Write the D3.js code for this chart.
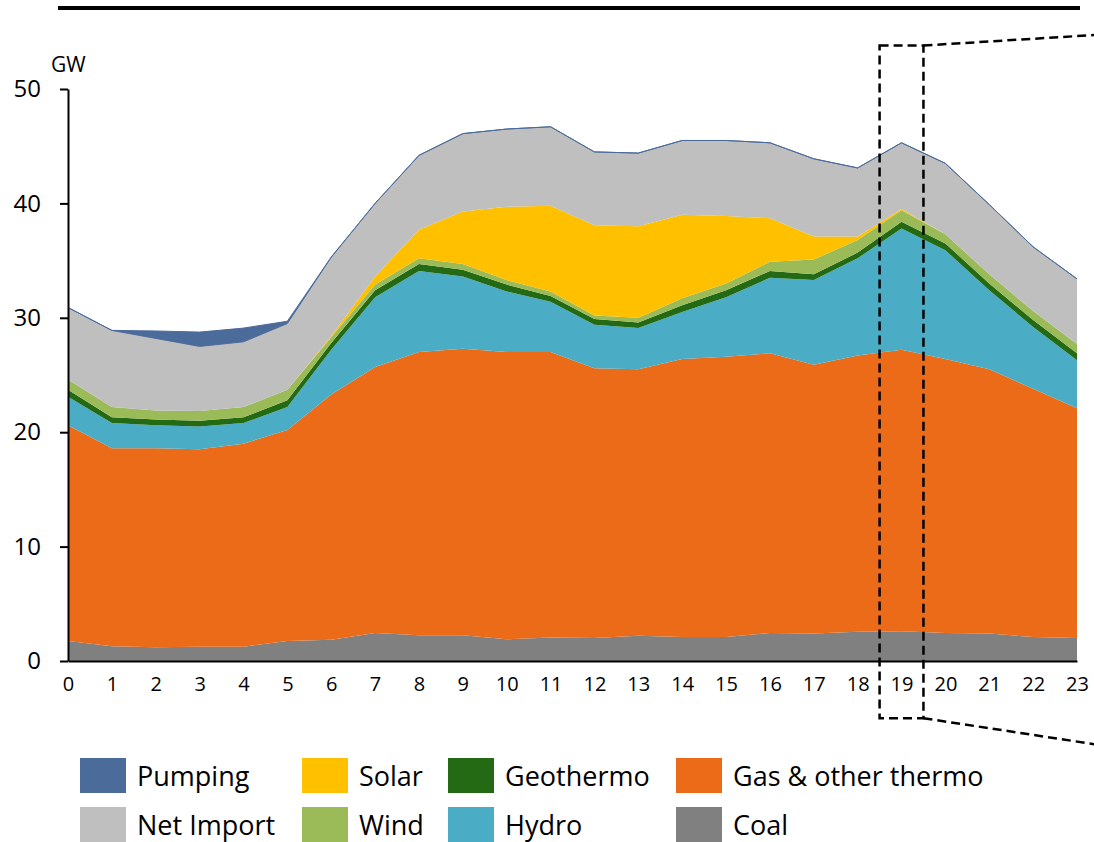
<!DOCTYPE html>
<html>
<head>
<meta charset="UTF-8">
<title>Hourly generation mix</title>
<script src="https://cdn.jsdelivr.net/npm/d3@7"></script>
<style>
  body { margin: 0; background: #fff; }
  svg { display: block; font-family: "Open Sans", sans-serif; }
</style>
</head>
<body>
<script>
// hours of the day
var hours = d3.range(0, 24);
var yTicks = [0, 10, 20, 30, 40, 50];

// series values (GW)
var coal      = [1.75,1.3,1.2,1.25,1.25,1.75,1.85,2.45,2.25,2.25,1.9,2.05,2.0,2.2,2.1,2.1,2.45,2.4,2.55,2.6,2.45,2.4,2.1,2.0];
var gas       = [18.85,17.3,17.4,17.25,17.75,18.45,21.45,23.25,24.75,25.05,25.1,24.95,23.6,23.3,24.3,24.5,24.45,23.5,24.15,24.6,23.95,23.1,21.7,20.1];
var hydro     = [2.5,2.2,2.0,2.0,1.8,2.0,3.9,6.1,7.1,6.3,5.3,4.4,3.8,3.6,4.1,5.2,6.6,7.4,8.5,10.6,9.5,6.9,5.4,4.2];
var geothermo = [0.6,0.5,0.5,0.5,0.5,0.6,0.6,0.6,0.6,0.6,0.6,0.5,0.5,0.5,0.6,0.6,0.6,0.5,0.5,0.6,0.6,0.6,0.6,0.6];
var wind      = [0.9,0.9,0.8,0.85,0.9,0.9,0.5,0.5,0.5,0.5,0.4,0.4,0.3,0.4,0.6,0.6,0.8,1.3,1.1,1.0,0.8,0.8,0.8,0.8];
var solar     = [0,0,0,0,0,0,0.1,0.7,2.5,4.6,6.4,7.5,7.9,8.0,7.3,5.9,3.8,2.0,0.3,0.1,0,0,0,0];
var netImport = [6.3,6.7,6.3,5.65,5.7,5.8,6.9,6.4,6.5,6.8,6.8,6.9,6.4,6.4,6.5,6.6,6.6,6.8,6.0,5.8,6.2,6.1,5.6,5.7];
var pumping   = [0,0,0.65,1.25,1.2,0.2,0,0,0,0,0,0,0,0,0,0,0,0,0,0,0,0,0,0];

var keys = ["coal","gas","hydro","geothermo","wind","solar","netImport","pumping"];
var names = {pumping:"Pumping", netImport:"Net Import", solar:"Solar", wind:"Wind",
             geothermo:"Geothermo", hydro:"Hydro", gas:"Gas & other thermo", coal:"Coal"};
var colors = {pumping:"#4b6b9b", netImport:"#bfbfbf", solar:"#ffc000", wind:"#9bbb59",
              geothermo:"#246913", hydro:"#4bacc6", gas:"#eb6b19", coal:"#808080"};

var table = hours.map(function(h, i){
  return {hour:h, coal:coal[i], gas:gas[i], hydro:hydro[i], geothermo:geothermo[i],
          wind:wind[i], solar:solar[i], netImport:netImport[i], pumping:pumping[i]};
});

var w = 1094, h = 842;
var svg = d3.select("body").append("svg").attr("width", w).attr("height", h);

var x = d3.scaleLinear().domain([0, 23]).range([68, 1077]);
var y = d3.scaleLinear().domain([0, 50]).range([661, 89]);

// top rule
svg.append("line")
  .attr("x1", 58).attr("x2", 1080).attr("y1", 8).attr("y2", 8)
  .attr("stroke", "#000").attr("stroke-width", 4);

var series = d3.stack().keys(keys)(table);

var area = d3.area()
  .x(function(d){ return x(d.data.hour); })
  .y0(function(d){ return y(d[0]); })
  .y1(function(d){ return y(d[1]); });

svg.append("g").selectAll("path")
  .data(series)
  .enter().append("path")
  .attr("d", area)
  .attr("fill", function(d){ return colors[d.key]; })
  .attr("stroke", function(d){ return d.key == "pumping" ? colors.pumping : "none"; })
  .attr("stroke-width", 1);

// axes
var yAxis = d3.axisLeft(y).tickValues(yTicks).tickSize(8).tickSizeOuter(0).tickPadding(19);
var xAxis = d3.axisBottom(x).tickValues(hours).tickSize(0).tickPadding(16);

var gy = svg.append("g").attr("transform", "translate(68,0)").call(yAxis);
gy.selectAll("text").attr("font-size", 24).attr("fill", "#000").attr("font-family", "Open Sans");
gy.selectAll("line,path").attr("stroke", "#000").attr("stroke-width", 2);

var gx = svg.append("g").attr("transform", "translate(0,661)").call(xAxis);
gx.selectAll("text").attr("font-size", 20).attr("fill", "#000").attr("font-family", "Open Sans");
gx.select(".domain").attr("stroke", "#000").attr("stroke-width", 2);

svg.append("text").attr("x", 51).attr("y", 72)
  .attr("font-size", 21).text("GW");

// dashed highlight around hour 19
var dash = svg.append("g")
  .attr("fill", "none").attr("stroke", "#000")
  .attr("stroke-width", 2.5).attr("stroke-dasharray", "9,5");
dash.append("rect")
  .attr("x", x(18.5)).attr("y", y(53.8))
  .attr("width", x(19.5) - x(18.5)).attr("height", y(-5) - y(53.8));
dash.append("line")
  .attr("x1", x(19.5)).attr("y1", y(53.8)).attr("x2", 1100).attr("y2", y(54.75));
dash.append("line")
  .attr("x1", x(19.5)).attr("y1", y(-5)).attr("x2", 1100).attr("y2", y(-7.35));

// legend
var legendRows = [["pumping","solar","geothermo","gas"], ["netImport","wind","hydro","coal"]];
var legendX = [80, 302, 448, 676];
legendRows.forEach(function(row, r){
  row.forEach(function(k, c){
    var g = svg.append("g").attr("transform", "translate(" + legendX[c] + "," + (758 + r * 49) + ")");
    g.append("rect").attr("width", 46).attr("height", 35).attr("fill", colors[k]);
    g.append("text").attr("x", 57).attr("y", 19).attr("dy", "0.35em")
      .attr("font-size", 27).attr("fill", "#000").text(names[k]);
  });
});
</script>
</body>
</html>
